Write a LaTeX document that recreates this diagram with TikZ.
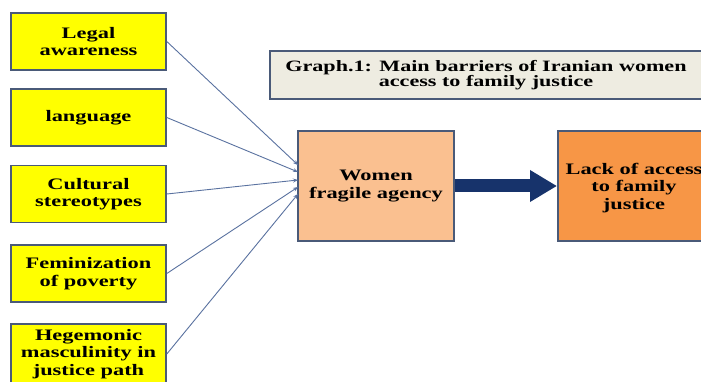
\documentclass[tikz,border=0pt]{standalone}
\usepackage{fontspec}
\setmainfont{Liberation Serif}[FakeStretch=1.4]
\usetikzlibrary{arrows.meta}
\definecolor{ybox}{HTML}{FFFF00}
\definecolor{bord}{HTML}{4A5A78}
\definecolor{titlefill}{HTML}{EEECE1}
\definecolor{womfill}{HTML}{FAC090}
\definecolor{lackfill}{HTML}{F79646}
\definecolor{navy}{HTML}{17336B}
\definecolor{lnk}{HTML}{5A72A0}
\begin{document}
\begin{tikzpicture}[x=1pt,y=-1pt,
  ybx/.style={draw=bord,line width=1.6pt,fill=ybox,minimum width=155pt,minimum height=57pt,align=center,font=\bfseries\fontsize{16}{17.5}\selectfont,inner sep=0pt},
  obx/.style={draw=bord,line width=1.6pt,minimum width=156pt,minimum height=110pt,align=center,font=\bfseries\fontsize{16}{17.5}\selectfont,inner sep=0pt},
  lk/.style={draw=lnk,line width=0.9pt,-{Stealth[length=5pt,width=4pt]}}]
\useasboundingbox (0,0) rectangle (701,382);
\fill[white] (0,0) rectangle (701,382);
\node[ybx] (b1) at (88.5,41.5) {Legal\\awareness};
\node[ybx] (b2) at (88.5,117.5) {language};
\node[ybx] (b3) at (88.5,194) {Cultural\\stereotypes};
\node[ybx] (b4) at (88.5,273.5) {Feminization\\of poverty};
\node[ybx,minimum height=60pt] (b5) at (88.5,354) {Hegemonic\\masculinity in\\justice path};
\node[draw=bord,line width=1.6pt,fill=titlefill,minimum width=432pt,minimum height=48pt,align=center,font=\bfseries\fontsize{15.8}{15.5}\selectfont,inner sep=0pt] (t) at (486,75) {Graph.1: Main barriers of Iranian women\\access to family justice};
\node[obx,fill=womfill] (w) at (376,186) {Women\\fragile agency};
\node[obx,fill=lackfill,anchor=west] (l) at (557,186) {};
\node[align=center,font=\bfseries\fontsize{16}{17.5}\selectfont,inner sep=0pt] (lt) at (634,188) {Lack of access\\to family\\justice};
\coordinate (w1) at (298,165);
\coordinate (w2) at (298,172);
\coordinate (w3) at (298,180);
\coordinate (w4) at (298,187);
\coordinate (w5) at (298,194);
\draw[lk] (b1.east) -- (w1);
\draw[lk] (b2.east) -- (w2);
\draw[lk] (b3.east) -- (w3);
\draw[lk] (b4.east) -- (w4);
\draw[lk] (b5.east) -- (w5);
\draw[navy,line width=13pt,-{Triangle[length=27pt,width=30pt]}] (w.east) -- (l.west);
\end{tikzpicture}
\end{document}
